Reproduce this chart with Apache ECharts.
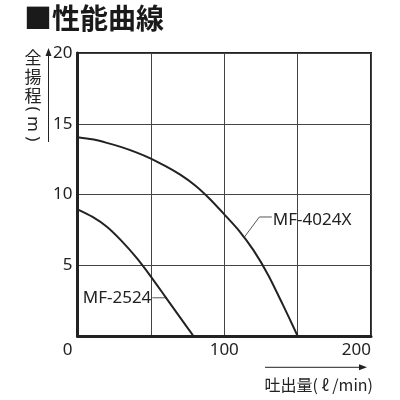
<!DOCTYPE html>
<html>
<head>
<meta charset="utf-8">
<script src="https://cdn.jsdelivr.net/npm/echarts@6/dist/echarts.min.js"></script>
<style>
  html, body { margin: 0; padding: 0; background: #fff; }
  #chart { width: 400px; height: 400px; }
</style>
</head>
<body>
<div id="chart"></div>
<script>
// performance curves, every 10 l/min
var flow4024 = [0, 10, 20, 30, 40, 50, 60, 70, 80, 90, 100, 110, 120, 130, 140, 150];
var head4024 = [14.05, 13.9, 13.65, 13.35, 12.98, 12.54, 12.0, 11.4, 10.65, 9.7, 8.6, 7.45, 6.05, 4.3, 2.2, 0];
var flow2524 = [0, 10, 20, 30, 40, 50, 60, 70, 79];
var head2524 = [8.95, 8.43, 7.72, 6.72, 5.55, 4.2, 2.75, 1.3, 0];

var xTicks = [0, 100, 200];
var yTicks = [5, 10, 15, 20];

// leader lines for the model names (data units)
var lead4024 = [[113.8, 7.0], [123.9, 8.41], [132.4, 8.41]];
var lead2524 = [[51, 2.7], [60.5, 2.7]];

var FONT = '"Noto Sans", "Noto Sans CJK JP", sans-serif';
var INK = '#222';

function pairs(xs, ys) {
    return xs.map(function (x, i) { return [x, ys[i]]; });
}

function leader(points, name, pos, offset) {
    var idx = pos === 'left' ? 0 : points.length - 1;
    return {
        type: 'line',
        data: points.map(function (p, i) {
            if (i !== idx) return p;
            return {
                value: p,
                label: {
                    show: true, position: pos, distance: 1, offset: offset,
                    formatter: name, color: INK,
                    fontFamily: FONT, fontSize: 17
                }
            };
        }),
        symbol: 'circle', symbolSize: 0,
        lineStyle: { color: '#555', width: 1 },
        silent: true, z: 3
    };
}

var chart = echarts.init(document.getElementById('chart'));
chart.setOption({
    animation: false,
    grid: {
        left: 77.5, right: 29, top: 53, bottom: 64,
        show: true, borderColor: INK, borderWidth: 2,
        outerBoundsMode: 'none'
    },
    xAxis: {
        type: 'value', min: 0, max: 200, interval: 50,
        axisLine: { lineStyle: { color: INK, width: 3 } },
        axisTick: { show: false },
        splitLine: { lineStyle: { color: '#444', width: 1 } },
        axisLabel: {
            color: INK, fontFamily: FONT, fontSize: 17, margin: 6,
            alignMinLabel: 'right', alignMaxLabel: 'right',
            formatter: function (v) {
                if (xTicks.indexOf(v) < 0) return '';
                return v === 0 ? '{z|0}' : String(v);
            },
            rich: { z: { fontFamily: FONT, fontSize: 17, color: INK, padding: [0, 5, 0, 0] } }
        }
    },
    yAxis: {
        type: 'value', min: 0, max: 20, interval: 5,
        axisLine: { lineStyle: { color: INK, width: 3 } },
        axisTick: { show: false },
        splitLine: { lineStyle: { color: '#444', width: 1 } },
        axisLabel: {
            color: INK, fontFamily: FONT, fontSize: 17, margin: 5,
            formatter: function (v) { return yTicks.indexOf(v) < 0 ? '' : String(v); }
        }
    },
    series: [
        {
            type: 'line', name: 'MF-4024X',
            data: pairs(flow4024, head4024),
            smooth: 0.25, showSymbol: false,
            lineStyle: { color: INK, width: 2 }, z: 4
        },
        {
            type: 'line', name: 'MF-2524',
            data: pairs(flow2524, head2524),
            smooth: 0.25, showSymbol: false,
            lineStyle: { color: INK, width: 2 }, z: 4
        },
        leader(lead4024, 'MF-4024X', 'right', [0, 3]),
        leader(lead2524, 'MF-2524', 'left', [0, 0])
    ],
    graphic: [
        {
            type: 'text', x: 24, y: 18,
            style: {
                text: '■性能曲線', fill: '#1a1a1a',
                font: 'bold 28px "Noto Sans CJK JP"',
                verticalAlign: 'middle'
            }
        },
        {
            type: 'text', x: 33, y: 48,
            style: {
                text: '全\n揚\n程', fill: INK, lineHeight: 19,
                font: '17px "Noto Sans CJK JP"',
                align: 'center', verticalAlign: 'top'
            }
        },
        {
            type: 'text', x: 33, y: 124, rotation: -Math.PI / 2,
            style: {
                text: '( m )', fill: INK,
                font: '17px "Noto Sans"',
                align: 'center', verticalAlign: 'middle'
            }
        },
        {
            type: 'line', shape: { x1: 48.5, y1: 142, x2: 48.5, y2: 54 },
            style: { stroke: INK, lineWidth: 1 }
        },
        {
            type: 'polygon', shape: { points: [[48.5, 48], [45.5, 56], [51.5, 56]] },
            style: { fill: INK }
        },
        {
            type: 'line', shape: { x1: 265, y1: 367.3, x2: 361, y2: 367.3 },
            style: { stroke: INK, lineWidth: 1 }
        },
        {
            type: 'polygon', shape: { points: [[367, 367.3], [359, 364.3], [359, 370.3]] },
            style: { fill: INK }
        },
        {
            type: 'text', x: 373, y: 385,
            style: {
                text: '吐出量( ℓ /min)', fill: INK,
                font: '16px "Noto Sans CJK JP"',
                align: 'right', verticalAlign: 'middle'
            }
        }
    ]
});
</script>
</body>
</html>
